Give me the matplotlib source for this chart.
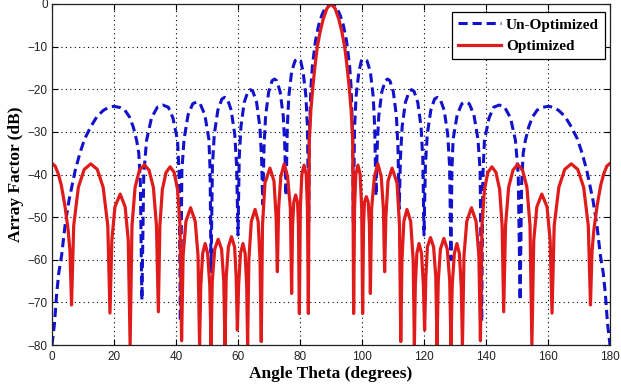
import matplotlib
matplotlib.use("Agg")
import matplotlib.pyplot as plt

# Un-Optimized array factor (dB), lobe by lobe
theta_unopt = [
    0, 0.8, 1.5, 2.2, 3.1, 4.2, 5.5, 7.5, 9, 10.5, 12.5, 14.5,
    16.5, 18.3, 20, 22, 23.5, 25, 26.2, 27.3, 28, 28.5,
    29, 29.6, 30.5, 32.1, 34, 35.7, 37.5, 39, 40.5, 41,
    41.4, 41.9, 42.6, 43.9, 45.4, 46.6, 47.8, 49.3, 50.6, 51.0,
    51.3, 51.75, 52.35, 53.5, 54.8, 55.7, 56.6, 57.8, 58.95, 59.55,
    60, 60.4, 60.95, 62, 63.2, 64, 64.8, 66, 67.05, 67.6,
    68, 68.4, 68.9, 69.9, 71, 71.75, 72.5, 73.6, 74.6, 75.1,
    75.5, 75.9, 76.4, 77.3, 78.4, 79.4, 80.2, 81, 81.9, 82.4,
    82.8, 83, 83.5, 84, 85, 86, 87, 88, 89, 90, 91, 92, 93, 94, 95, 96, 96.5, 97,
    97.2, 97.6, 98.1, 99, 99.8, 100.6, 101.6, 102.7, 103.6, 104.1,
    104.5, 104.9, 105.4, 106.4, 107.5, 108.25, 109, 110.1, 111.1, 111.6,
    112, 112.4, 112.95, 114, 115.2, 116, 116.8, 118, 119.05, 119.6,
    120, 120.45, 121.05, 122.2, 123.4, 124.3, 125.2, 126.5, 127.65, 128.25,
    128.7, 129, 129.4, 130.7, 132.2, 133.4, 134.6, 136.1, 137.4, 138.1,
    138.6, 139, 139.5, 141, 142.5, 144.3, 146, 147.9, 149.5, 150.4,
    151, 151.5, 152, 152.7, 153.8, 155, 156.5, 158, 160, 161.7, 163.5,
    165.5, 167.5, 169.5, 171, 172.5, 174.5, 175.8, 176.9, 177.8, 178.5, 179.2, 180,
]
af_unopt = [
    -80, -75, -68, -63, -59, -52, -46, -39, -35, -31.7, -28.8, -26.4,
    -25, -24.2, -24, -24.3, -24.9, -26.5, -28.8, -32, -35, -42,
    -69.5, -40, -32, -26.7, -24.2, -23.7, -24.2, -26.7, -32, -40,
    -74.5, -39, -31.7, -26, -23.4, -23, -23.4, -26, -31.7, -39,
    -62.8, -37.9, -30.6, -24.9, -22.3, -21.9, -22.3, -24.9, -30.6, -37.9,
    -54.2, -36.1, -28.8, -23.1, -20.5, -20.1, -20.5, -23.1, -28.8, -36.1,
    -47, -33.6, -26.3, -20.6, -18, -17.6, -18, -20.6, -26.3, -33.6,
    -45, -28.9, -21.6, -15.9, -13.3, -12.9, -13.3, -15.9, -21.6, -28.9,
    -51, -31.8, -19.7, -14.5, -8.6, -5.0, -2.7, -1.1, -0.3, 0, -0.3, -1.1, -2.7, -5.0, -8.6, -14.5, -19.7, -31.8,
    -51, -28.9, -21.6, -15.9, -13.3, -12.9, -13.3, -15.9, -21.6, -28.9,
    -45, -33.6, -26.3, -20.6, -18, -17.6, -18, -20.6, -26.3, -33.6,
    -48, -36.1, -28.8, -23.1, -20.5, -20.1, -20.5, -23.1, -28.8, -36.1,
    -54.2, -37.9, -30.6, -24.9, -22.3, -21.9, -22.3, -24.9, -30.6, -37.9,
    -60, -39, -31.7, -26, -23.4, -23, -23.4, -26, -31.7, -39,
    -74.5, -40, -32, -26.7, -24.2, -23.7, -24.2, -26.7, -32, -40,
    -69.5, -42, -35, -32, -28.8, -26.5, -24.9, -24.3, -24, -24.2, -25,
    -26.4, -28.8, -31.7, -35, -39, -46, -52, -59, -63, -68, -75, -80,
]

# Optimized array factor (dB)
theta_opt = [
    0, 1, 2, 3, 4.2, 5.2, 5.8,
    6.3, 7.0, 8.5, 10.4, 12.5, 14.6, 16.5, 18.0,
    18.7, 19.3, 20.3, 22.0, 23.6, 24.6,
    25.2, 25.8, 26.8, 28.2, 29.8, 31.3, 32.7, 33.7,
    34.3, 34.8, 35.6, 36.8, 38.1, 39.4, 40.5, 41.3,
    41.8, 42.3, 43.2, 44.7, 46.2, 47.1,
    47.6, 48.0, 48.6, 49.4, 50.2, 50.9,
    51.3, 51.7, 52.5, 53.6, 54.7, 55.4,
    55.8, 56.2, 56.9, 57.9, 58.9, 59.4,
    59.8, 60.2, 60.8, 61.6, 62.3, 62.8,
    63.1, 63.5, 64.3, 65.5, 66.5, 67.1,
    67.5, 67.9, 68.7, 70.3, 71.6, 72.3,
    72.7, 73.1, 73.8, 74.9, 76.0, 76.9,
    77.3, 77.6, 78.0, 78.6, 79.2, 79.5,
    79.8, 80.1, 80.6, 81.3, 82.0, 82.4,
    82.7, 83.0, 83.5, 84.2, 85.0, 85.6, 86.5, 87.5, 88.7, 90,
    91.3, 92.5, 93.5, 94.4, 95.0, 95.8, 96.5, 97.0,
    97.3, 97.6, 98.0, 98.7, 99.4, 99.9,
    100.2, 100.5, 100.8, 101.4, 102.0, 102.4,
    102.7, 103.1, 104.0, 105.1, 106.2, 106.9,
    107.3, 107.7, 108.4, 109.7, 111.3, 112.1,
    112.5, 112.9, 113.5, 114.5, 115.7, 116.5,
    116.9, 117.2, 117.7, 118.4, 119.2, 119.8,
    120.2, 120.6, 121.1, 122.1, 123.1, 123.8,
    124.2, 124.6, 125.3, 126.4, 127.5, 128.3,
    128.7, 129.1, 129.8, 130.6, 131.4, 132.0,
    132.4, 132.9, 133.8, 135.3, 136.8, 137.7,
    138.2, 138.7, 139.5, 140.6, 141.9, 143.2, 144.4, 145.2,
    145.7, 146.3, 147.3, 148.7, 150.2, 151.8, 153.2, 154.2,
    154.8, 155.4, 156.4, 158.0, 159.7, 160.7,
    161.3, 162.0, 163.5, 165.4, 167.5, 169.6, 171.5, 173.0,
    173.7, 174.2, 174.8, 175.8, 177, 178, 179, 180,
]
af_opt = [
    -37.4, -38, -39.8, -42.5, -47.5, -53, -58,
    -70.6, -52, -43, -38.8, -37.5, -38.8, -43, -52,
    -72.5, -55.5, -47.6, -44.6, -47.6, -55.5,
    -80, -52, -43, -39, -37.7, -39, -43, -52,
    -72.2, -52, -43.5, -39.5, -38.2, -39.5, -43.5, -52,
    -79, -59, -51, -47.8, -51, -59,
    -80, -66, -58.5, -56.2, -58.5, -66,
    -80, -65, -57.5, -55.2, -57.5, -65,
    -80, -64, -57, -54.6, -57, -64,
    -76.5, -66, -58.5, -56.2, -58.5, -66,
    -80, -60, -51, -48.2, -51, -60,
    -79.2, -52, -42, -38.5, -41.5, -50,
    -62.8, -48, -40.5, -37.5, -40.5, -48,
    -67.9, -52, -46.5, -44.8, -46.5, -52,
    -72.6, -48, -40, -37.8, -40, -48,
    -72.6, -32, -25, -19, -13.5, -10, -6.5, -3.5, -1, 0,
    -1, -3.5, -6.5, -10, -13.5, -19, -25, -32,
    -72.6, -48, -40, -37.8, -40, -48,
    -72.6, -52, -46.5, -45.2, -46.5, -52,
    -67.9, -48, -40.5, -37.5, -40.5, -48,
    -62.8, -50, -41.5, -38.5, -42, -52,
    -79.2, -60, -51, -48.2, -51, -60,
    -80, -66, -58.5, -56.2, -58.5, -66,
    -76.5, -64, -57, -54.8, -57, -64,
    -80, -65, -57.5, -55, -57.5, -65,
    -80, -66, -58.5, -56.2, -58.5, -66,
    -80, -59, -51, -47.8, -51, -59,
    -79, -52, -43.5, -39.5, -38.2, -39.5, -43.5, -52,
    -72.2, -52, -43, -39, -37.6, -39, -43, -52,
    -80, -55.5, -47.6, -44.6, -47.6, -55.5,
    -72.5, -52, -43, -38.8, -37.5, -38.8, -43, -52,
    -70.6, -58, -53, -47.5, -42.5, -39.8, -38, -37.4,
]

x_ticks = list(range(0, 181, 20))
y_ticks = list(range(-80, 1, 10))

serif = ["Liberation Serif", "DejaVu Serif"]
plt.rcParams["font.family"] = ["Liberation Sans", "DejaVu Sans"]

W, H = 621, 391
fig = plt.figure(figsize=(W / 100, H / 100), dpi=100)
ax = fig.add_axes([52 / W, 46 / H, 558 / W, 341 / H])

ax.plot(theta_unopt, af_unopt, color="#1212cc", linewidth=2.2,
        linestyle=(0, (3, 1.6)), label="Un-Optimized")
ax.plot(theta_opt, af_opt, color="#e01b1b", linewidth=2.3,
        label="Optimized")

ax.set_xlim(0, 180)
ax.set_ylim(-80, 0)
ax.set_xticks(x_ticks)
ax.set_yticks(y_ticks)
ax.tick_params(direction="in", length=4, width=0.8, top=True, right=True,
               labelsize=8.5, labelcolor="#222222")
ax.tick_params(axis="x", pad=4)
ax.tick_params(axis="y", pad=3)
ax.grid(True, color="black", linestyle=(0, (1, 3)), linewidth=0.8)
for sp in ax.spines.values():
    sp.set_linewidth(0.9)
    sp.set_color("#222222")

fig.text(331 / W, 1 - 374 / H, "Angle Theta (degrees)", ha="center", va="center",
         fontsize=12.5, fontweight="bold", family=serif)
fig.text(16.5 / W, 1 - 174 / H, "Array Factor (dB)", ha="center", va="center",
         rotation=90, fontsize=12.5, fontweight="bold", family=serif)

leg = ax.legend(loc="upper right", bbox_to_anchor=(605 / W, 1 - 12 / H),
                bbox_transform=fig.transFigure, borderaxespad=0,
                fancybox=False, framealpha=1, edgecolor="black",
                handlelength=2.8, handletextpad=0.35, labelspacing=0.5,
                borderpad=0.4, prop={"family": serif, "weight": "bold", "size": 11})
leg.get_frame().set_linewidth(0.9)

fig.savefig("out.png", dpi=100)
